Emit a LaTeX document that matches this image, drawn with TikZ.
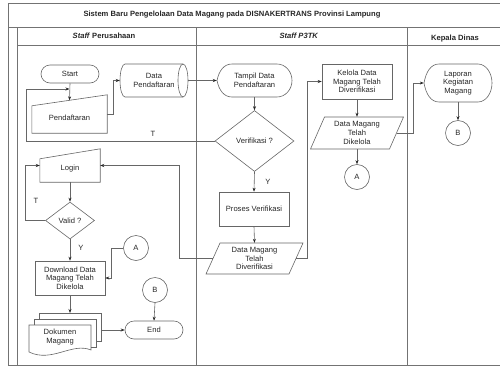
\documentclass[tikz,border=0pt]{standalone}
\usepackage{fontspec}
\setmainfont{Liberation Sans}
\usetikzlibrary{arrows.meta,calc,shapes.geometric}

% outline of a manual-input shape around a named node
\newcommand\manualin[2]{%
  \draw[fl] (#1.south west) -- ($(#1.north west)+(0,#2)$) -- (#1.north east) -- (#1.south east) -- cycle;}
% parallelogram (data) around a named node: half width, half height, skew
\newcommand\paraout[4]{%
  \begin{scope}[shift={(#1.center)}]
    \draw[fl] (-#2+#4,-#3) -- (#2+#4,-#3) -- (#2-#4,#3) -- (-#2-#4,#3) -- cycle;
  \end{scope}}
% display shape: pointed left side, rounded right side
\newcommand\dispout[4]{%
  \begin{scope}[shift={(#1.center)}]
    \draw[fl] (-#2,0) .. controls (-#2+2,-#3*0.6) and (-#2+7,-#3) .. (-#2+15,-#3)
      -- (#2-#4,-#3) arc[start angle=90,end angle=-90,x radius=#4pt,y radius=#3pt]
      -- (-#2+15,#3) .. controls (-#2+7,#3) and (-#2+2,#3*0.6) .. cycle;
  \end{scope}}
% horizontal cylinder (stored data)
\newcommand\cylout[4]{%
  \begin{scope}[shift={(#1.center)}]
    \draw[fl] (-#2+#4,-#3) -- (#2-#4,-#3) arc[start angle=90,end angle=-90,x radius=#4pt,y radius=#3pt]
      -- (-#2+#4,#3) arc[start angle=270,end angle=90,x radius=#4pt,y radius=#3pt] -- cycle;
    \draw[fl] (#2-#4,-#3) arc[start angle=90,end angle=270,x radius=#4pt,y radius=#3pt];
  \end{scope}}

\begin{document}
\begin{tikzpicture}[x=1pt,y=-1pt,
  every node/.style={font=\fontsize{7.6}{8.7}\selectfont, text=black!85, align=center, inner sep=0pt},
  lane/.style={draw=black!55, line width=0.7pt},
  fl/.style={draw=black!60, line width=0.6pt},
  arr/.style={fl, -{Stealth[length=4pt,width=3pt,color=black!85]}},
  zone/.style 2 args={minimum width=#1pt, minimum height=#2pt},
  termbox/.style={fl, rounded corners=9pt, minimum width=58pt, minimum height=18pt},
  procbox/.style={fl, rectangle},
  decision/.style={fl, diamond},
  conn/.style={fl, circle, minimum size=25pt},
  hdr/.style={font=\fontsize{7.6}{9}\selectfont\bfseries}
]
\useasboundingbox (0,0) rectangle (500,367);

% swimlane frame
\draw[lane] (500,3) -- (8,3) -- (8,365) -- (500,365);
\draw[lane] (8,27) -- (500,27);
\draw[lane] (17,27) -- (17,365);
\draw[lane] (17,45) -- (500,45);
\draw[lane] (196,27) -- (196,365);
\draw[lane] (407,27) -- (407,365);

\node[hdr] (title) at (232,15) {Sistem Baru Pengelolaan Data Magang pada DISNAKERTRANS Provinsi Lampung};
\node[hdr] (hA) at (104,36) {\textit{Staff} Perusahaan};
\node[hdr] (hB) at (299,36) {\textit{Staff P3TK}};
\node[hdr] (hC) at (455,38.5) {Kepala Dinas};

% Staff Perusahaan
\node[termbox] (start) at (70,74) {Start};
\node[zone={75}{38}] (pend) at (69.5,114) {\raisebox{-4pt}[\height][\depth]{Pendaftaran}};
\manualin{pend}{11}
\node[zone={68}{33}] (cyl) at (154,80.5) {Data\\Pendaftaran};
\cylout{cyl}{34}{16.5}{5}
\node[zone={60}{33}] (login) at (70,165.5) {\raisebox{-3pt}[\height][\depth]{Login}};
\manualin{login}{10}
\node[decision, minimum width=49pt, minimum height=37pt] (valid) at (70,220.5) {Valid ?};
\node[procbox, minimum width=70pt, minimum height=34pt] (download) at (70,278) {Download Data\\Magang Telah\\Dikelola};
\node[conn] (conA1) at (136,248) {A};
\node[zone={62}{26}] (dok) at (60,337) {Dokumen\\Magang};
\begin{scope}[shift={(dok.center)}]
  \draw[fl] (-21,-18) -- (-21,-24) -- (41,-24) -- (41,4) -- (36,4);
  \draw[fl] (-26,-12) -- (-26,-18) -- (36,-18) -- (36,10) -- (31,10);
  \draw[fl] (-31,-12) -- (31,-12) -- (31,13) .. controls (12,5) and (-8,26) .. (-31,15) -- cycle;
\end{scope}
\node[conn] (conB2) at (155,290) {B};
\node[termbox] (endn) at (154,330) {End};

% Staff P3TK
\node[zone={75}{33}] (tampil) at (254.5,80.5) {Tampil Data\\Pendaftaran};
\dispout{tampil}{37.5}{16.5}{15}
\node[decision, minimum width=79pt, minimum height=61pt] (verif) at (254.5,141) {Verifikasi ?};
\node[procbox, minimum width=70pt, minimum height=34pt] (proses) at (254,209) {Proses Verifikasi};
\node[zone={83}{31}] (diver) at (254.5,258.5) {Data Magang\\Telah\\Diverifikasi};
\paraout{diver}{41.5}{15.5}{7}
\node[procbox, minimum width=70pt, minimum height=35pt] (kelola) at (357,81.5) {Kelola Data\\Magang Telah\\Diverifikasi};
\node[zone={79}{32}] (dikel) at (357,133) {Data Magang\\Telah\\Dikelola};
\paraout{dikel}{39.5}{16}{7}
\node[conn] (conA2) at (357,177) {A};

% Kepala Dinas
\node[zone={68}{38}] (lapor) at (458,83) {Laporan\\Kegiatan\\Magang};
\dispout{lapor}{34}{19}{14}
\node[conn] (conB1) at (458,133) {B};

% branch labels
\node (lblT1) at (153,134) {T};
\node (lblY1) at (268,182) {Y};
\node (lblT2) at (36,201) {T};
\node (lblY2) at (81,248) {Y};

% helper points
\coordinate (pendtop) at ($(pend.north west)!0.5!(pend.north east)+(0,5.5)$);
\coordinate (railL) at (26,89);
\coordinate (loopin) at (69.5,89);
\coordinate (doctop) at ($(dok.center)+(10,-24)$);
\coordinate (docright) at ($(dok.center)+(41,-7)$);

% connectors
\draw[arr] (start.south) -- (pendtop);
\draw[arr] (pend.east) -- ++(6,0) |- (cyl.west);
\draw[arr] (cyl.east) -- (tampil.west);
\draw[arr] (tampil.south) -- (verif.north);
\draw[arr] (verif.west) -| (railL) -- (loopin);
\draw[arr] (verif.south) -- (proses.north);
\draw[arr] (proses.south) -- (diver.north);
\draw[arr] (diver.west) -- ++(-33.5,0) |- (login.east);
\draw[arr] (diver.east) -- ++(11,0) |- (kelola.west);
\draw[arr] (kelola.south) -- (dikel.north);
\draw[arr] (dikel.south) -- (conA2.north);
\draw[arr] (dikel.east) -- ++(17,0) |- (lapor.west);
\draw[arr] (lapor.south) -- (conB1.north);
\draw[arr] (login.south) -- (valid.north);
\draw[arr] (valid.west) -- ++(-19.5,0) |- (login.west);
\draw[arr] (valid.south) -- (download.north);
\draw[arr] (conA1.west) -- ++(-12,0) |- (download.east);
\draw[arr] (download.south) -- (doctop);
\draw[arr] (docright) -- (endn.west);
\draw[arr] (conB2.south) -- (endn.north);
\end{tikzpicture}
\end{document}
